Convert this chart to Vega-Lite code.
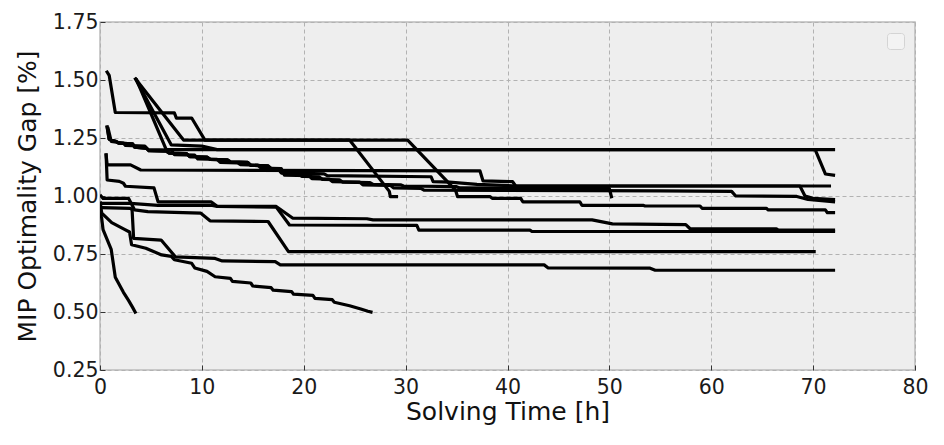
{
  "$schema": "https://vega.github.io/schema/vega-lite/v6.json",
  "width": 815,
  "height": 348,
  "autosize": "none",
  "padding": {"left": 100, "top": 22, "right": 29, "bottom": 75},
  "background": "white",
  "config": {
    "view": {"fill": "#eeeeee", "stroke": "#bcbcbc", "strokeWidth": 1.5},
    "font": "DejaVu Sans",
    "axis": {
      "domain": false,
      "grid": true,
      "gridColor": "#b2b2b2",
      "gridDash": [4, 3],
      "gridWidth": 1,
      "tickColor": "#333333",
      "tickSize": -5,
      "tickWidth": 1,
      "labelFont": "DejaVu Sans",
      "labelFontSize": 20.5,
      "labelColor": "#1a1a1a",
      "labelFlush": false,
      "labelOverlap": false,
      "titleFont": "DejaVu Sans",
      "titleFontSize": 25,
      "titleFontWeight": "normal",
      "titleColor": "#111111"
    }
  },
  "data": {
    "values": [
      {"run": "A", "t": 0.7, "gap": 1.534}, {"run": "A", "t": 0.9, "gap": 1.52}, {"run": "A", "t": 1.5, "gap": 1.36}, {"run": "A", "t": 7.3, "gap": 1.358}, {"run": "A", "t": 7.5, "gap": 1.336}, {"run": "A", "t": 9.0, "gap": 1.336}, {"run": "A", "t": 10.3, "gap": 1.241}, {"run": "A", "t": 24.5, "gap": 1.241}, {"run": "A", "t": 28.4, "gap": 1.02}, {"run": "A", "t": 28.5, "gap": 0.997}, {"run": "A", "t": 29.1, "gap": 0.997},

      {"run": "B", "t": 3.5, "gap": 1.504}, {"run": "B", "t": 8.2, "gap": 1.241}, {"run": "B", "t": 30.2, "gap": 1.241}, {"run": "B", "t": 34.9, "gap": 1.025}, {"run": "B", "t": 35.1, "gap": 0.997}, {"run": "B", "t": 38.3, "gap": 0.997}, {"run": "B", "t": 38.5, "gap": 0.99}, {"run": "B", "t": 41.3, "gap": 0.99}, {"run": "B", "t": 41.5, "gap": 0.975}, {"run": "B", "t": 47.1, "gap": 0.975}, {"run": "B", "t": 47.3, "gap": 0.96}, {"run": "B", "t": 53.3, "gap": 0.96}, {"run": "B", "t": 53.5, "gap": 0.957}, {"run": "B", "t": 58.9, "gap": 0.957}, {"run": "B", "t": 59.1, "gap": 0.947}, {"run": "B", "t": 65.4, "gap": 0.947}, {"run": "B", "t": 65.6, "gap": 0.94}, {"run": "B", "t": 71.2, "gap": 0.94}, {"run": "B", "t": 71.4, "gap": 0.928}, {"run": "B", "t": 72.0, "gap": 0.928},

      {"run": "C", "t": 3.5, "gap": 1.504}, {"run": "C", "t": 7.0, "gap": 1.22}, {"run": "C", "t": 10.0, "gap": 1.215}, {"run": "C", "t": 11.5, "gap": 1.2}, {"run": "C", "t": 72.0, "gap": 1.2},

      {"run": "D", "t": 3.6, "gap": 1.5}, {"run": "D", "t": 6.5, "gap": 1.2}, {"run": "D", "t": 70.2, "gap": 1.2}, {"run": "D", "t": 71.2, "gap": 1.095}, {"run": "D", "t": 72.0, "gap": 1.09},

      {"run": "E", "t": 0.7, "gap": 1.297}, {"run": "E", "t": 0.9, "gap": 1.245}, {"run": "E", "t": 1.6, "gap": 1.235}, {"run": "E", "t": 1.8, "gap": 1.228}, {"run": "E", "t": 3.2, "gap": 1.225}, {"run": "E", "t": 3.4, "gap": 1.21}, {"run": "E", "t": 4.6, "gap": 1.205}, {"run": "E", "t": 4.8, "gap": 1.195}, {"run": "E", "t": 6.5, "gap": 1.193}, {"run": "E", "t": 6.8, "gap": 1.185}, {"run": "E", "t": 8.5, "gap": 1.183}, {"run": "E", "t": 8.8, "gap": 1.17}, {"run": "E", "t": 10.5, "gap": 1.168}, {"run": "E", "t": 10.8, "gap": 1.158}, {"run": "E", "t": 12.5, "gap": 1.156}, {"run": "E", "t": 12.8, "gap": 1.147}, {"run": "E", "t": 14.5, "gap": 1.145}, {"run": "E", "t": 14.8, "gap": 1.132}, {"run": "E", "t": 16.5, "gap": 1.13}, {"run": "E", "t": 16.8, "gap": 1.118}, {"run": "E", "t": 17.5, "gap": 1.116}, {"run": "E", "t": 17.8, "gap": 1.1}, {"run": "E", "t": 19.5, "gap": 1.098}, {"run": "E", "t": 19.8, "gap": 1.085}, {"run": "E", "t": 21.5, "gap": 1.083}, {"run": "E", "t": 21.8, "gap": 1.072}, {"run": "E", "t": 23.5, "gap": 1.07}, {"run": "E", "t": 23.8, "gap": 1.06}, {"run": "E", "t": 26.5, "gap": 1.058}, {"run": "E", "t": 26.8, "gap": 1.05}, {"run": "E", "t": 29.5, "gap": 1.048}, {"run": "E", "t": 29.8, "gap": 1.043}, {"run": "E", "t": 35.0, "gap": 1.04}, {"run": "E", "t": 35.3, "gap": 1.035}, {"run": "E", "t": 50.0, "gap": 1.032}, {"run": "E", "t": 50.2, "gap": 0.997},

      {"run": "F", "t": 0.8, "gap": 1.29}, {"run": "F", "t": 1.1, "gap": 1.235}, {"run": "F", "t": 2.3, "gap": 1.228}, {"run": "F", "t": 2.5, "gap": 1.218}, {"run": "F", "t": 4.4, "gap": 1.215}, {"run": "F", "t": 4.7, "gap": 1.2}, {"run": "F", "t": 7.0, "gap": 1.198}, {"run": "F", "t": 7.3, "gap": 1.178}, {"run": "F", "t": 9.3, "gap": 1.176}, {"run": "F", "t": 9.6, "gap": 1.16}, {"run": "F", "t": 11.5, "gap": 1.158}, {"run": "F", "t": 11.8, "gap": 1.145}, {"run": "F", "t": 13.5, "gap": 1.143}, {"run": "F", "t": 13.8, "gap": 1.135}, {"run": "F", "t": 15.5, "gap": 1.133}, {"run": "F", "t": 15.8, "gap": 1.12}, {"run": "F", "t": 17.8, "gap": 1.118}, {"run": "F", "t": 18.1, "gap": 1.09}, {"run": "F", "t": 20.5, "gap": 1.088}, {"run": "F", "t": 20.8, "gap": 1.075}, {"run": "F", "t": 22.5, "gap": 1.073}, {"run": "F", "t": 22.8, "gap": 1.062}, {"run": "F", "t": 25.5, "gap": 1.06}, {"run": "F", "t": 25.8, "gap": 1.048}, {"run": "F", "t": 28.5, "gap": 1.046}, {"run": "F", "t": 28.8, "gap": 1.035}, {"run": "F", "t": 31.5, "gap": 1.033}, {"run": "F", "t": 31.8, "gap": 1.025}, {"run": "F", "t": 40.0, "gap": 1.024}, {"run": "F", "t": 55.0, "gap": 1.022}, {"run": "F", "t": 62.0, "gap": 1.02}, {"run": "F", "t": 62.4, "gap": 1.0}, {"run": "F", "t": 68.4, "gap": 0.998}, {"run": "F", "t": 69.5, "gap": 0.985}, {"run": "F", "t": 72.0, "gap": 0.975},

      {"run": "P", "t": 0.7, "gap": 1.297}, {"run": "P", "t": 0.9, "gap": 1.245}, {"run": "P", "t": 1.6, "gap": 1.235}, {"run": "P", "t": 1.8, "gap": 1.228}, {"run": "P", "t": 3.2, "gap": 1.225}, {"run": "P", "t": 3.4, "gap": 1.21}, {"run": "P", "t": 4.6, "gap": 1.205}, {"run": "P", "t": 4.8, "gap": 1.195}, {"run": "P", "t": 6.5, "gap": 1.193}, {"run": "P", "t": 6.8, "gap": 1.185}, {"run": "P", "t": 8.5, "gap": 1.183}, {"run": "P", "t": 8.8, "gap": 1.17}, {"run": "P", "t": 10.5, "gap": 1.168}, {"run": "P", "t": 10.8, "gap": 1.158}, {"run": "P", "t": 12.5, "gap": 1.156}, {"run": "P", "t": 12.8, "gap": 1.147}, {"run": "P", "t": 14.5, "gap": 1.145}, {"run": "P", "t": 14.8, "gap": 1.132}, {"run": "P", "t": 16.5, "gap": 1.13}, {"run": "P", "t": 16.8, "gap": 1.118}, {"run": "P", "t": 17.5, "gap": 1.116}, {"run": "P", "t": 17.8, "gap": 1.1}, {"run": "P", "t": 22.0, "gap": 1.095}, {"run": "P", "t": 22.3, "gap": 1.088}, {"run": "P", "t": 32.5, "gap": 1.083}, {"run": "P", "t": 32.7, "gap": 1.062}, {"run": "P", "t": 34.3, "gap": 1.06}, {"run": "P", "t": 37.0, "gap": 1.05}, {"run": "P", "t": 41.0, "gap": 1.043}, {"run": "P", "t": 68.7, "gap": 1.043}, {"run": "P", "t": 69.2, "gap": 1.0}, {"run": "P", "t": 70.0, "gap": 0.99}, {"run": "P", "t": 72.0, "gap": 0.985},

      {"run": "G", "t": 0.6, "gap": 1.177}, {"run": "G", "t": 0.7, "gap": 1.134}, {"run": "G", "t": 3.0, "gap": 1.134}, {"run": "G", "t": 4.0, "gap": 1.112}, {"run": "G", "t": 37.3, "gap": 1.108}, {"run": "G", "t": 37.6, "gap": 1.065}, {"run": "G", "t": 40.5, "gap": 1.062}, {"run": "G", "t": 40.8, "gap": 1.043}, {"run": "G", "t": 71.6, "gap": 1.043},

      {"run": "H", "t": 0.6, "gap": 1.177}, {"run": "H", "t": 0.7, "gap": 1.069}, {"run": "H", "t": 1.9, "gap": 1.063}, {"run": "H", "t": 2.3, "gap": 1.055}, {"run": "H", "t": 2.5, "gap": 1.042}, {"run": "H", "t": 5.3, "gap": 1.035}, {"run": "H", "t": 5.7, "gap": 0.975}, {"run": "H", "t": 10.9, "gap": 0.975}, {"run": "H", "t": 11.5, "gap": 0.956}, {"run": "H", "t": 17.3, "gap": 0.955}, {"run": "H", "t": 18.9, "gap": 0.905}, {"run": "H", "t": 26.2, "gap": 0.902}, {"run": "H", "t": 26.8, "gap": 0.897}, {"run": "H", "t": 48.3, "gap": 0.897}, {"run": "H", "t": 50.3, "gap": 0.88}, {"run": "H", "t": 57.5, "gap": 0.877}, {"run": "H", "t": 57.9, "gap": 0.86}, {"run": "H", "t": 66.4, "gap": 0.858}, {"run": "H", "t": 66.6, "gap": 0.853}, {"run": "H", "t": 72.0, "gap": 0.853},

      {"run": "M", "t": 0.2, "gap": 0.968}, {"run": "M", "t": 3.0, "gap": 0.968}, {"run": "M", "t": 4.0, "gap": 0.965}, {"run": "M", "t": 5.7, "gap": 0.96}, {"run": "M", "t": 10.9, "gap": 0.96}, {"run": "M", "t": 11.5, "gap": 0.955}, {"run": "M", "t": 17.3, "gap": 0.952}, {"run": "M", "t": 18.6, "gap": 0.875}, {"run": "M", "t": 31.1, "gap": 0.873}, {"run": "M", "t": 31.3, "gap": 0.853}, {"run": "M", "t": 42.2, "gap": 0.853}, {"run": "M", "t": 42.4, "gap": 0.847}, {"run": "M", "t": 72.0, "gap": 0.847},

      {"run": "I", "t": 0.1, "gap": 1.0}, {"run": "I", "t": 0.3, "gap": 0.99}, {"run": "I", "t": 2.8, "gap": 0.99}, {"run": "I", "t": 3.4, "gap": 0.94}, {"run": "I", "t": 4.7, "gap": 0.933}, {"run": "I", "t": 9.9, "gap": 0.926}, {"run": "I", "t": 10.8, "gap": 0.893}, {"run": "I", "t": 16.5, "gap": 0.89}, {"run": "I", "t": 18.5, "gap": 0.76}, {"run": "I", "t": 70.1, "gap": 0.76},

      {"run": "J", "t": 0.2, "gap": 0.95}, {"run": "J", "t": 3.0, "gap": 0.947}, {"run": "J", "t": 3.15, "gap": 0.94}, {"run": "J", "t": 3.3, "gap": 0.817}, {"run": "J", "t": 6.0, "gap": 0.81}, {"run": "J", "t": 7.4, "gap": 0.738}, {"run": "J", "t": 11.3, "gap": 0.731}, {"run": "J", "t": 12.0, "gap": 0.72}, {"run": "J", "t": 17.2, "gap": 0.717}, {"run": "J", "t": 17.7, "gap": 0.703}, {"run": "J", "t": 43.6, "gap": 0.703}, {"run": "J", "t": 44.0, "gap": 0.69}, {"run": "J", "t": 54.0, "gap": 0.689}, {"run": "J", "t": 54.5, "gap": 0.68}, {"run": "J", "t": 72.0, "gap": 0.68},

      {"run": "K", "t": 0.1, "gap": 0.94}, {"run": "K", "t": 0.2, "gap": 0.925}, {"run": "K", "t": 1.15, "gap": 0.885}, {"run": "K", "t": 2.45, "gap": 0.855}, {"run": "K", "t": 2.9, "gap": 0.845}, {"run": "K", "t": 3.1, "gap": 0.79}, {"run": "K", "t": 4.5, "gap": 0.775}, {"run": "K", "t": 6.05, "gap": 0.746}, {"run": "K", "t": 7.0, "gap": 0.74}, {"run": "K", "t": 7.3, "gap": 0.725}, {"run": "K", "t": 9.0, "gap": 0.71}, {"run": "K", "t": 9.3, "gap": 0.69}, {"run": "K", "t": 10.5, "gap": 0.675}, {"run": "K", "t": 11.3, "gap": 0.652}, {"run": "K", "t": 12.8, "gap": 0.645}, {"run": "K", "t": 13.0, "gap": 0.632}, {"run": "K", "t": 14.8, "gap": 0.625}, {"run": "K", "t": 15.0, "gap": 0.612}, {"run": "K", "t": 16.8, "gap": 0.605}, {"run": "K", "t": 17.0, "gap": 0.594}, {"run": "K", "t": 18.8, "gap": 0.588}, {"run": "K", "t": 19.0, "gap": 0.577}, {"run": "K", "t": 20.9, "gap": 0.572}, {"run": "K", "t": 21.1, "gap": 0.559}, {"run": "K", "t": 22.8, "gap": 0.553}, {"run": "K", "t": 23.0, "gap": 0.542}, {"run": "K", "t": 24.5, "gap": 0.527}, {"run": "K", "t": 25.6, "gap": 0.513}, {"run": "K", "t": 26.3, "gap": 0.503}, {"run": "K", "t": 26.6, "gap": 0.5},

      {"run": "L", "t": 0.05, "gap": 0.97}, {"run": "L", "t": 0.15, "gap": 0.91}, {"run": "L", "t": 0.3, "gap": 0.855}, {"run": "L", "t": 1.1, "gap": 0.77}, {"run": "L", "t": 1.3, "gap": 0.71}, {"run": "L", "t": 1.5, "gap": 0.65}, {"run": "L", "t": 2.3, "gap": 0.585}, {"run": "L", "t": 2.8, "gap": 0.55}, {"run": "L", "t": 3.2, "gap": 0.52}, {"run": "L", "t": 3.45, "gap": 0.5}
    ]
  },
  "mark": {"type": "line", "strokeWidth": 3.2, "strokeCap": "square", "strokeJoin": "round", "clip": true},
  "encoding": {
    "x": {
      "field": "t",
      "type": "quantitative",
      "scale": {"domain": [0, 80], "nice": false, "zero": false},
      "axis": {"title": "Solving Time [h]", "values": [0, 10, 20, 30, 40, 50, 60, 70, 80], "labelPadding": 12, "titlePadding": 2}
    },
    "y": {
      "field": "gap",
      "type": "quantitative",
      "scale": {"domain": [0.25, 1.75], "nice": false, "zero": false},
      "axis": {"title": "MIP Optimality Gap [%]", "values": [0.25, 0.5, 0.75, 1.0, 1.25, 1.5, 1.75], "format": ".2f", "labelPadding": 7, "titlePadding": 12}
    },
    "detail": {"field": "run", "type": "nominal"},
    "color": {
      "datum": "runs",
      "scale": {"range": ["black"]},
      "legend": {
        "orient": "top-right",
        "offset": 11,
        "title": null,
        "labelExpr": "''",
        "labelOffset": 0,
        "labelFontSize": 1,
        "symbolOpacity": 0,
        "symbolStrokeWidth": 0,
        "symbolSize": 9,
        "padding": 7,
        "fillColor": "#f3f3f3",
        "strokeColor": "#d4d4d4",
        "cornerRadius": 3
      }
    }
  }
}
